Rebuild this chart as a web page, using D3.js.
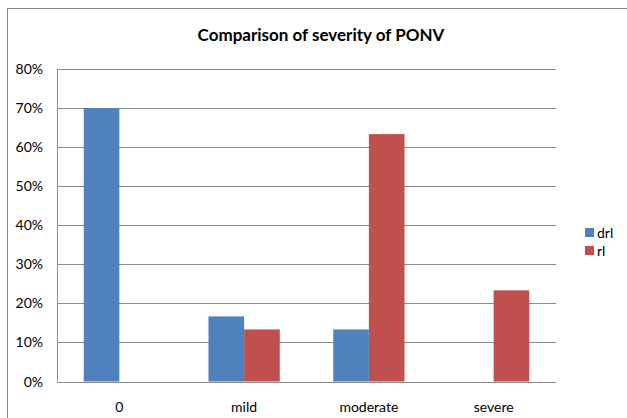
<!DOCTYPE html>
<html>
<head>
<meta charset="utf-8">
<script src="https://cdn.jsdelivr.net/npm/d3@7"></script>
<style>
  body { margin: 0; background: #fff; }
  text { font-family: Lato, "Open Sans", sans-serif; fill: #000; }
</style>
</head>
<body>
<svg id="chart" width="627" height="418"></svg>
<script>
const categories = ["0", "mild", "moderate", "severe"];
const seriesNames = ["drl", "rl"];
const drlValues = [0.70, 0.1667, 0.1333, 0];
const rlValues = [0, 0.1333, 0.6333, 0.2333];
const yTicks = [0, 0.1, 0.2, 0.3, 0.4, 0.5, 0.6, 0.7, 0.8];

const colors = { drl: "#4F81BD", rl: "#C0504D" };
const svg = d3.select("#chart");
const margin = { top: 69, left: 57, right: 71, bottom: 36 };
const width = 627 - margin.left - margin.right;
const height = 418 - margin.top - margin.bottom - 0.5;

// outer frame (runs off the right/bottom edge like the source)
svg.append("rect")
    .attr("x", 7.5).attr("y", 8.5)
    .attr("width", 640).attr("height", 420)
    .attr("fill", "none").attr("stroke", "#888");

svg.append("text")
    .attr("x", 321).attr("y", 41)
    .attr("text-anchor", "middle")
    .style("font-size", "17px").style("font-weight", "bold")
    .text("Comparison of severity of PONV");

const g = svg.append("g").attr("transform", `translate(${margin.left},${margin.top})`);

const x = d3.scaleBand().domain(categories).range([0, width]);
// gap width 150% between groups
const x1 = d3.scaleBand().domain(seriesNames).range([x.bandwidth() * 0.75 / 3.5, x.bandwidth() * 2.75 / 3.5]);
const y = d3.scaleLinear().domain([0, 0.8]).range([height, 0]);

// gridlines
g.selectAll(".grid")
    .data(yTicks)
    .join("line")
    .attr("x1", 0).attr("x2", width)
    .attr("y1", d => Math.round(y(d)) + 0.5).attr("y2", d => Math.round(y(d)) + 0.5)
    .attr("stroke", "#8c8c8c");

g.append("line")
    .attr("x1", 0.5).attr("x2", 0.5).attr("y1", 0).attr("y2", height)
    .attr("stroke", "#8c8c8c");

g.selectAll(".ylab")
    .data(yTicks)
    .join("text")
    .attr("x", -14).attr("y", d => y(d) + 5)
    .attr("text-anchor", "end")
    .style("font-size", "14px")
    .text(d3.format(".0%"));

const rows = categories.map((c, i) => ({ cat: c, drl: drlValues[i], rl: rlValues[i] }));

g.selectAll(".grp")
    .data(rows)
    .join("g")
    .attr("transform", d => `translate(${x(d.cat)},0)`)
    .selectAll("rect")
    .data(d => seriesNames.map(s => ({ s, v: d[s] })))
    .join("rect")
    .attr("x", d => x1(d.s))
    .attr("width", x1.bandwidth())
    .attr("y", d => y(d.v))
    .attr("height", d => y(0) - y(d.v))
    .attr("fill", d => colors[d.s]);

g.selectAll(".xlab")
    .data(categories)
    .join("text")
    .attr("x", d => x(d) + x.bandwidth() / 2)
    .attr("y", height + 30)
    .attr("text-anchor", "middle")
    .style("font-size", "14px")
    .text(d => d);

// legend
const leg = svg.append("g").attr("transform", "translate(585,228)");
leg.selectAll("rect")
    .data(seriesNames)
    .join("rect")
    .attr("x", 0).attr("y", (d, i) => i * 18)
    .attr("width", 9).attr("height", 9)
    .attr("fill", d => colors[d]);
leg.selectAll("text")
    .data(seriesNames)
    .join("text")
    .attr("x", 12).attr("y", (d, i) => i * 18 + 10)
    .style("font-size", "14px")
    .text(d => d);
</script>
</body>
</html>
